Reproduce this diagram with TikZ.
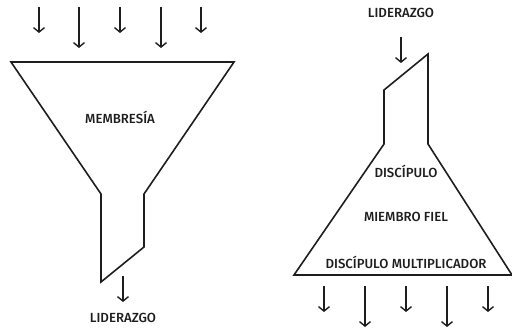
\documentclass[tikz,border=0pt]{standalone}
\usepackage{fontspec}
\setmainfont{Fira Sans Medium}
\usetikzlibrary{arrows.meta}
\definecolor{ink}{HTML}{1E1E1E}
\tikzset{
  shape line/.style={draw=ink, line width=1.6pt, line join=miter},
  flow/.style={draw=ink, line width=1.4pt, -{Straight Barb[length=4.5pt,width=11pt,line width=1.4pt]}},
  lbl/.style={text=ink, font=\fontsize{13.2}{15}\selectfont, inner sep=0pt}
}
\begin{document}
\begin{tikzpicture}[x=1pt,y=-1pt]
\useasboundingbox (0,0) rectangle (512,329);
% left funnel
\draw[shape line] (11,62) -- (234,62) -- (144,194) -- (144,247) -- (101,282) -- (101,194) -- cycle;
\node[lbl] (memb) at (120,117) {MEMBRESÍA};
% top arrows
\foreach \i/\x/\e in {1/39/33, 2/79/48, 3/120/33, 4/161/48, 5/201/33} {
  \coordinate (ts\i) at (\x,7);
  \coordinate (te\i) at (\x,\e);
  \draw[flow] (ts\i) -- (te\i);
}
\coordinate (ls) at (123,276);
\coordinate (le) at (123,302);
\draw[flow] (ls) -- (le);
\node[lbl] (lid1) at (123,318) {LIDERAZGO};
% right shape
\node[lbl] (lid2) at (401,13) {LIDERAZGO};
\coordinate (rs) at (401,37);
\coordinate (re) at (401,63);
\draw[flow] (rs) -- (re);
\draw[shape line] (428,54) -- (428,144) -- (512,275) -- (294,275) -- (384,144) -- (384,90) -- cycle;
\node[lbl] (disc) at (406,171) {DISCÍPULO};
\node[lbl] (miem) at (406,217) {MIEMBRO FIEL};
\node[lbl] (mult) at (406,262) {DISCÍPULO MULTIPLICADOR};
\foreach \i/\x/\e in {1/324/312, 2/365/327, 3/406/312, 4/447/327, 5/488/312} {
  \coordinate (bs\i) at (\x,286);
  \coordinate (be\i) at (\x,\e);
  \draw[flow] (bs\i) -- (be\i);
}
\end{tikzpicture}
\end{document}
